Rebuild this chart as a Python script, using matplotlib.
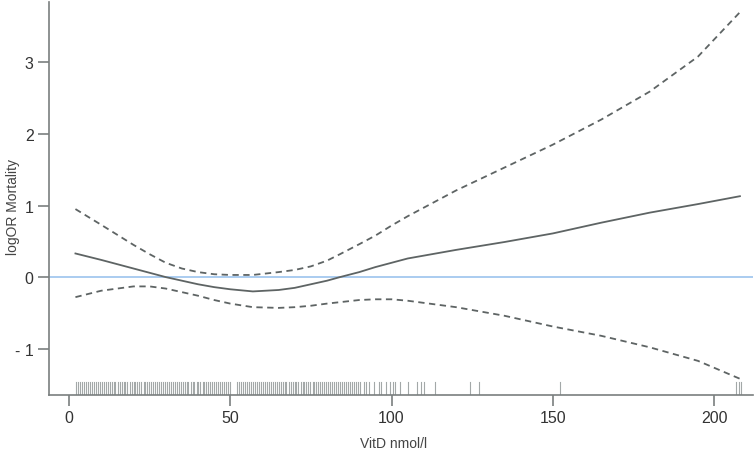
import matplotlib.pyplot as plt

plt.rcParams['font.family'] = ['Liberation Sans', 'DejaVu Sans']

# Curva estimada y bandas de confianza
vitd = [2, 10, 20, 25, 30, 35, 40, 45, 50, 57, 65, 70, 75, 80, 84, 90, 95, 100, 105,
        110, 120, 135, 150, 165, 180, 195, 208]
log_or = [0.33, 0.24, 0.12, 0.06, 0.0, -0.05, -0.10, -0.14, -0.17, -0.20, -0.18, -0.15,
          -0.10, -0.05, 0.0, 0.07, 0.14, 0.20, 0.26, 0.30, 0.38, 0.49, 0.61, 0.76, 0.90,
          1.02, 1.13]
upper = [0.95, 0.73, 0.45, 0.32, 0.20, 0.12, 0.07, 0.04, 0.03, 0.03, 0.07, 0.10, 0.15,
         0.23, 0.32, 0.46, 0.58, 0.72, 0.85, 0.97, 1.21, 1.53, 1.85, 2.20, 2.59, 3.08,
         3.70]
lower = [-0.28, -0.19, -0.13, -0.13, -0.16, -0.21, -0.26, -0.32, -0.37, -0.42, -0.43,
         -0.42, -0.40, -0.37, -0.35, -0.32, -0.31, -0.31, -0.33, -0.36, -0.42, -0.54,
         -0.69, -0.82, -0.98, -1.17, -1.42]

# Observaciones (rug)
rug = [2.2, 2.9, 3.5, 4.1, 4.8, 5.3, 6.0, 6.6, 7.1, 7.8, 8.4, 9.0, 9.7, 10.2, 10.9,
       11.5, 12.0, 12.6, 13.3, 13.9, 14.4, 15.1, 15.7, 16.3, 17.0, 17.5, 18.1, 18.8,
       19.4, 20.0, 20.5, 21.2, 21.8, 22.4, 23.1, 23.6, 24.2, 24.9, 25.5, 26.0, 26.7,
       27.3, 27.9, 28.6, 29.1, 29.7, 30.4, 31.0, 31.5, 32.2, 32.8, 33.4, 34.1, 34.6,
       35.2, 35.9, 36.5, 37.0, 37.7, 38.3, 38.9, 39.6, 40.1, 40.7, 41.4, 42.0, 42.5,
       43.2, 43.8, 44.4, 45.1, 45.6, 46.2, 46.9, 47.5, 48.0, 48.7, 49.3, 49.9, 52.2,
       52.8, 53.4, 54.0, 54.6, 55.3, 55.9, 56.4, 57.1, 57.7, 58.3, 59.0, 59.5, 60.1,
       60.8, 61.4, 61.9, 62.6, 63.2, 63.8, 64.5, 65.0, 65.6, 66.3, 66.9, 67.4, 68.1,
       68.7, 69.3, 70.0, 70.5, 71.1, 71.8, 72.4, 72.9, 73.6, 74.2, 74.8, 75.5, 76.0,
       76.6, 77.3, 77.9, 78.4, 79.1, 79.7, 80.3, 81.0, 81.5, 82.1, 82.8, 83.4, 84.0,
       84.6, 85.3, 85.8, 86.5, 87.1, 87.6, 88.3, 89.0, 89.6, 90.2, 91.5, 92.1, 93.0,
       94.6, 96.0, 96.6, 98.3, 99.5, 100.3, 101.0, 102.7, 105.0, 108.0, 109.0, 110.0,
       113.5, 124.2, 127.2, 152.3, 206.8, 207.6, 208.4]

xticks = [0, 50, 100, 150, 200]
yticks = [-1, 0, 1, 2, 3]
ylabels = ['- 1', '0', '1', '2', '3']

line_col = '#5e6464'
axis_col = '#7a7f7f'

fig = plt.figure(figsize=(7.56, 4.52), dpi=100)
ax = fig.add_axes([0.0648, 0.124, 0.931, 0.869])

ax.axhline(0, color='#9cc4ee', lw=1.2, zorder=1)
ax.plot(vitd, log_or, color=line_col, lw=1.3, zorder=3)
ax.plot(vitd, upper, color=line_col, lw=1.3, ls=(0, (3.5, 2.5)), zorder=3)
ax.plot(vitd, lower, color=line_col, lw=1.3, ls=(0, (3.5, 2.5)), zorder=3)

for v in rug:
    ax.plot([v, v], [-1.646, -1.47], color='#a3a8a8', lw=0.8, zorder=2)

ax.set_xlim(-6.2, 212)
ax.set_ylim(-1.646, 3.84)
ax.set_xticks(xticks)
ax.set_yticks(yticks)
ax.set_yticklabels(ylabels)

for s in ['top', 'right']:
    ax.spines[s].set_visible(False)
for s in ['left', 'bottom']:
    ax.spines[s].set_color(axis_col)
    ax.spines[s].set_linewidth(1.2)

ax.tick_params(axis='both', colors=axis_col, length=8, width=1.2, labelsize=11.5,
               labelcolor='#333333')
ax.tick_params(axis='x', pad=3)
ax.tick_params(axis='y', pad=3)

ax.set_xlabel('VitD nmol/l', fontsize=10, color='#444444')
ax.set_ylabel('logOR Mortality', fontsize=10, color='#444444')
ax.xaxis.set_label_coords(0.49, -0.104)
ax.yaxis.set_label_coords(-0.041, 0.48)

fig.savefig('out.png', dpi=100)
